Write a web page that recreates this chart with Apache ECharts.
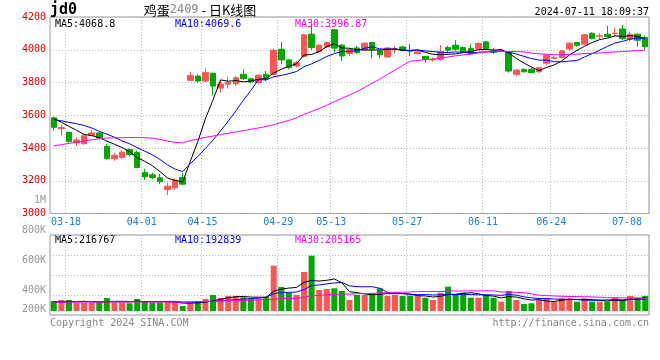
<!DOCTYPE html>
<html><head><meta charset="utf-8">
<script src="https://cdn.jsdelivr.net/npm/echarts@6/dist/echarts.min.js"></script>
<style>html,body{margin:0;padding:0;background:#fff}#c{width:660px;height:360px}</style>
</head><body><div id="c"></div>
<script>
const dates = ['03-14','03-15','03-18','03-19','03-20','03-21','03-22','03-25','03-26','03-27','03-28','03-29',
'04-01','04-02','04-03','04-08','04-09','04-10','04-11','04-12','04-15','04-16','04-17','04-18','04-19','04-22','04-23','04-24','04-25','04-26','04-29','04-30',
'05-06','05-07','05-08','05-09','05-10','05-13','05-14','05-15','05-16','05-17','05-20','05-21','05-22','05-23','05-24','05-27','05-28','05-29','05-30','05-31',
'06-03','06-04','06-05','06-06','06-07','06-11','06-12','06-13','06-14','06-17','06-18','06-19','06-20','06-21','06-24','06-25','06-26','06-27','06-28',
'07-01','07-02','07-03','07-04','07-05','07-08','07-09','07-10'];
const opens = [3584,3518,3496,3431,3426,3477,3492,3410,3334,3342,3390,3373,3250,3236,3218,3146,3158,3220,3813,3839,
3809,3856,3766,3790,3793,3850,3823,3799,3850,3850,4003,3938,3901,3959,4095,3989,4017,4122,4028,3977,
4011,3999,4044,3993,3956,4001,4017,3995,3977,3959,3938,3942,4013,4028,4013,4007,4005,4048,3995,3995,
3983,3850,3880,3880,3866,3918,3948,3952,4005,4044,4034,4101,4083,4095,4099,4126,4064,4095,4074];
const closes = [3526,3525,3439,3449,3475,3492,3461,3334,3355,3375,3359,3281,3224,3220,3195,3167,3204,3179,3843,3809,
3860,3778,3791,3800,3829,3823,3803,3844,3823,3997,3938,3891,3921,4091,4013,4028,4044,4010,3962,4001,
3983,4040,4003,3969,4011,4005,3997,3991,3987,3942,3942,3990,3997,4003,3983,3977,4038,4007,3985,3999,
3870,3876,3866,3860,3891,3966,3952,3993,4040,4028,4091,4068,4085,4081,4101,4068,4095,4058,4019];
const lows = [3506,3477,3433,3410,3420,3471,3451,3330,3322,3334,3348,3278,3206,3210,3179,3113,3144,3175,3809,3799,
3803,3721,3737,3762,3780,3815,3795,3790,3809,3845,3911,3880,3891,3950,3999,3980,4010,3983,3932,3962,
3975,3993,3948,3948,3950,3977,3990,3962,3970,3921,3928,3932,3983,3995,3977,3970,3999,4001,3975,3985,
3860,3840,3860,3856,3860,3905,3940,3948,3995,4020,4030,4064,4064,4075,4080,4060,4050,4019,4000];
const highs = [3590,3543,3500,3465,3482,3510,3495,3425,3369,3387,3396,3385,3273,3249,3240,3187,3216,3247,3864,3850,
3886,3860,3813,3836,3840,3880,3830,3850,3870,4007,4048,3945,3932,4098,4156,4034,4050,4126,4034,4011,
4024,4046,4050,3999,4017,4024,4024,4034,3993,3962,3952,4028,4024,4058,4020,4034,4044,4054,4010,4005,
3990,3880,3886,3891,3895,3973,3962,3999,4048,4048,4095,4105,4101,4146,4134,4152,4110,4099,4085];
const ma5 = [3578,3558,3532,3508,3483,3476,3463,3442,3423,3403,3377,3341,3319,3292,3256,3217,3202,3193,3318,3440,
3579,3694,3816,3808,3812,3804,3809,3820,3824,3858,3881,3899,3914,3968,3971,3989,4019,4037,4011,4009,
4000,3999,3998,3999,4001,4006,3997,3995,3998,3984,3972,3970,3972,3975,3983,3990,4000,4002,3998,4001,
3980,3947,3919,3894,3873,3892,3907,3932,3968,3996,4021,4044,4062,4071,4085,4081,4086,4081,4068];
const ma10 = [3574,3566,3557,3548,3538,3522,3502,3485,3466,3443,3426,3402,3381,3358,3330,3297,3271,3256,3305,3348,
3398,3448,3505,3563,3626,3692,3752,3818,3816,3835,3843,3854,3867,3896,3914,3935,3959,3976,3990,3990,
3994,4009,4018,4005,4005,4003,3998,3996,3999,3993,3989,3984,3983,3987,3984,3981,3985,3987,3986,3992,
3985,3974,3960,3946,3937,3936,3927,3926,3931,3934,3956,3976,3997,4020,4041,4051,4065,4072,4069];
const ma30 = [3414,3420,3428,3436,3443,3450,3457,3461,3462,3463,3464,3464,3463,3460,3452,3442,3435,3431,3445,3455,
3465,3473,3482,3490,3498,3506,3514,3522,3532,3542,3556,3568,3584,3605,3623,3641,3661,3683,3703,3724,
3745,3770,3796,3821,3849,3876,3903,3930,3935,3939,3942,3949,3956,3963,3968,3973,3981,3986,3992,3992,
3989,3989,3987,3979,3975,3973,3970,3970,3972,3973,3977,3978,3980,3984,3987,3989,3992,3995,3997];
// volumes in thousands (K)
const volumes = [163,179,179,135,135,135,135,212,135,135,126,196,163,135,135,147,147,82,126,163,
196,261,212,245,245,223,207,207,233,738,391,298,261,636,901,342,359,370,326,179,
261,261,289,370,245,261,245,250,250,217,179,298,396,277,298,217,217,261,217,152,
326,179,114,126,179,207,152,207,207,152,207,152,152,152,217,179,245,207,245];
const volMa5 = [152,152,152,155,158,153,144,150,150,150,149,161,151,151,151,155,145,129,127,133,
143,166,192,215,232,237,226,225,223,322,355,373,384,465,497,488,500,522,460,315,
299,279,263,272,285,285,282,274,250,245,228,239,268,273,290,297,281,254,242,213,
235,227,198,179,185,161,156,174,190,185,185,185,174,163,176,170,189,200,217];
const volMa10 = [147,148,150,150,152,152,153,155,157,158,155,156,155,155,155,156,157,144,143,146,
153,160,164,175,186,194,200,213,223,281,300,304,309,348,414,425,441,457,466,410,
397,394,396,370,304,296,285,273,265,269,261,264,275,266,271,267,264,265,262,255,
270,258,230,215,203,202,195,190,189,189,177,174,178,181,185,182,191,191,193];
const volMa30 = [145,145,145,146,146,146,146,147,147,147,147,147,146,146,146,146,145,144,150,153,
156,160,163,166,170,174,178,182,186,192,200,204,207,223,249,256,263,269,275,276,
281,283,287,295,299,303,306,311,316,317,317,318,324,325,327,327,327,329,328,309,
307,303,298,281,257,252,245,240,236,235,233,230,225,218,217,214,214,213,205];
const xTickLabels = ['03-18','04-01','04-15','04-29','05-13','05-27','06-11','06-24','07-08'];
const priceMin = 3000, priceMax = 4200, priceStep = 200;
const volTickLabels = ['200K','400K','600K','800K','1M'];
const priceHeader = ['MA5:4068.8','MA10:4069.6','MA30:3996.87'];
const volHeader = ['MA5:216767','MA10:192839','MA30:205165'];
const titleCode = 'jd0', titleName = '鸡蛋', titleContract = '2409', titleSuffix = ' - 日K线图';
const timestamp = '2024-07-11 18:09:37';
const copyright = 'Copyright 2024 SINA.COM', siteUrl = 'http://finance.sina.com.cn';

const UP = '#ff5555', DOWN = '#00a800';
const GRID = '#b8b8b8', FRAME = '#999999';
const MONO = '"DejaVu Sans Mono", "Liberation Mono", monospace';
const showTick = (i, v) => xTickLabels.indexOf(v) >= 0;
const dotted = {color: GRID, type: [1, 2], width: 1};

const chart = echarts.init(document.getElementById('c'), null, {renderer: 'canvas'});
const lineS = (name, data, color, xi, yi) => ({
  name, type: 'line', data, xAxisIndex: xi, yAxisIndex: yi, showSymbol: false, symbol: 'none',
  lineStyle: {color, width: 1}, itemStyle: {color}, z: 5, silent: true, animation: false
});
chart.setOption({
  animation: false,
  backgroundColor: '#fff',
  grid: [
    {left: 50, right: 11, top: 17, height: 196.5, show: true, borderColor: FRAME, borderWidth: 1},
    {left: 50, right: 11, top: 235, height: 80, show: true, borderColor: FRAME, borderWidth: 1},
    {left: 50, right: 11, top: 200.7, height: 150, show: false}
  ],
  xAxis: [
    {type: 'category', gridIndex: 0, data: dates, boundaryGap: true,
     axisLine: {show: false}, axisTick: {show: false},
     axisLabel: {interval: showTick, color: '#1a7fd4', fontFamily: MONO, fontSize: 10, margin: 4, padding: [0, 6, 0, 0]},
     splitLine: {show: true, interval: showTick, lineStyle: dotted}},
    {type: 'category', gridIndex: 1, data: dates, boundaryGap: true,
     axisLine: {show: false}, axisTick: {show: false}, axisLabel: {show: false},
     splitLine: {show: true, interval: showTick, lineStyle: dotted}},
    {type: 'category', gridIndex: 2, data: dates, show: false}
  ],
  yAxis: [
    {type: 'value', gridIndex: 0, min: priceMin, max: priceMax, interval: priceStep,
     axisLine: {show: false}, axisTick: {show: false},
     axisLabel: {color: '#e00000', fontFamily: MONO, fontSize: 10, margin: 4, formatter: v => String(v)},
     splitLine: {show: true, lineStyle: dotted}},
    {type: 'value', gridIndex: 1, min: -65, max: 1238, show: false},
    {type: 'value', gridIndex: 1, min: 0, max: 4, interval: 1,
     axisLine: {show: false}, axisTick: {show: false}, axisLabel: {show: false},
     splitLine: {show: true, lineStyle: dotted}},
    {type: 'value', gridIndex: 2, min: 0, max: 1000, interval: 200,
     axisLine: {show: false}, axisTick: {show: false}, splitLine: {show: false},
     axisLabel: {color: '#9a9a9a', fontFamily: MONO, fontSize: 10, margin: 4,
       formatter: v => { const k = Math.round(v / 200) - 1; if (k < 0) return ''; return k === 0 ? '{s|' + volTickLabels[k] + '}' : volTickLabels[k]; },
       rich: {s: {color: '#9a9a9a', fontFamily: MONO, fontSize: 10, padding: [0, 0, 23, 0]}}}}
  ],
  series: [
    {type: 'candlestick', xAxisIndex: 0, yAxisIndex: 0, barWidth: 6,
     data: dates.map((d, i) => [opens[i], closes[i], lows[i], highs[i]]),
     itemStyle: {color: UP, color0: DOWN, borderColor: UP, borderColor0: DOWN, borderWidth: 1}, z: 3},
    lineS('MA5', ma5, '#000000', 0, 0),
    lineS('MA10', ma10, '#0000ff', 0, 0),
    lineS('MA30', ma30, '#ff00ff', 0, 0),
    {type: 'bar', xAxisIndex: 1, yAxisIndex: 1, barWidth: 6,
     data: volumes.map((v, i) => ({value: v, itemStyle: {color: closes[i] >= opens[i] ? UP : DOWN}})), z: 3},
    lineS('VMA5', volMa5, '#000000', 1, 1),
    lineS('VMA10', volMa10, '#0000ff', 1, 1),
    lineS('VMA30', volMa30, '#ff00ff', 1, 1)
  ],
  graphic: [
    {type: 'text', x: 50, y: 10, style: {text: titleCode, font: 'bold 15px ' + MONO, fill: '#000', verticalAlign: 'middle'}},
    {type: 'text', x: 200, y: 10, style: {text: '{a|' + titleName + '}{b|' + titleContract + '}{a|' + titleSuffix + '}',
      align: 'center', verticalAlign: 'middle',
      rich: {a: {font: '13px "Noto Sans CJK SC"', fill: '#000'}, b: {font: '12px ' + MONO, fill: '#888'}}}},
    {type: 'text', x: 649, y: 12, style: {text: timestamp, font: '10px ' + MONO, fill: '#000', align: 'right', verticalAlign: 'middle'}},
    {type: 'text', x: 55, y: 24, style: {text: priceHeader[0], font: '10px ' + MONO, fill: '#000', verticalAlign: 'middle'}},
    {type: 'text', x: 175, y: 24, style: {text: priceHeader[1], font: '10px ' + MONO, fill: '#0000ff', verticalAlign: 'middle'}},
    {type: 'text', x: 295, y: 24, style: {text: priceHeader[2], font: '10px ' + MONO, fill: '#ff00ff', verticalAlign: 'middle'}},
    {type: 'text', x: 55, y: 240, style: {text: volHeader[0], font: '10px ' + MONO, fill: '#000', verticalAlign: 'middle'}},
    {type: 'text', x: 175, y: 240, style: {text: volHeader[1], font: '10px ' + MONO, fill: '#0000ff', verticalAlign: 'middle'}},
    {type: 'text', x: 295, y: 240, style: {text: volHeader[2], font: '10px ' + MONO, fill: '#ff00ff', verticalAlign: 'middle'}},
    {type: 'text', x: 50, y: 323, style: {text: copyright, font: '10px ' + MONO, fill: '#888', verticalAlign: 'middle'}},
    {type: 'text', x: 649, y: 323, style: {text: siteUrl, font: '10px ' + MONO, fill: '#888', align: 'right', verticalAlign: 'middle'}}
  ]
});
</script></body></html>
